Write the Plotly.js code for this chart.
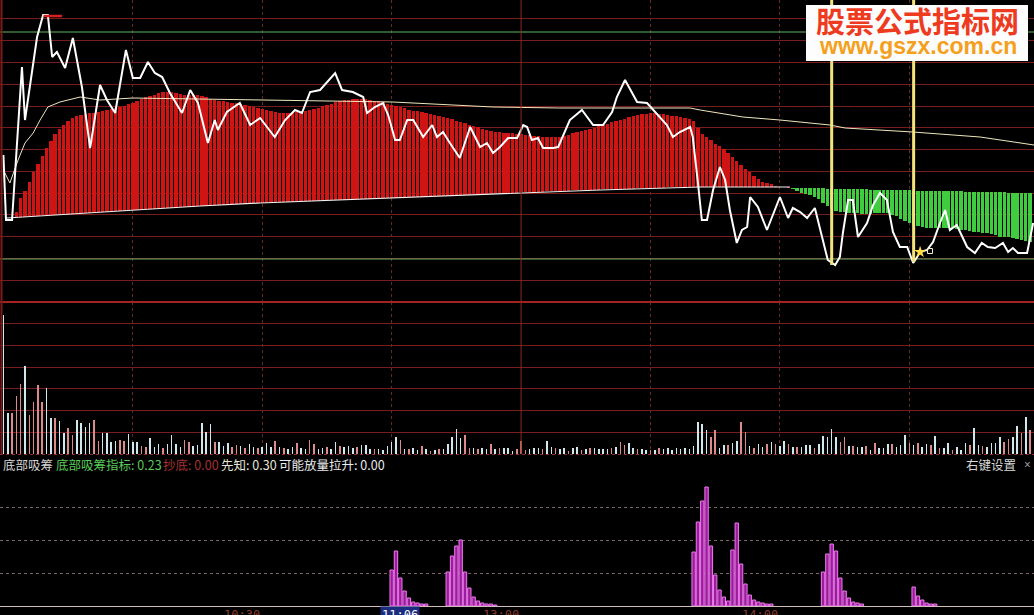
<!DOCTYPE html>
<html><head><meta charset="utf-8">
<script src="https://cdn.plot.ly/plotly-3.0.1.min.js"></script>
<style>html,body{margin:0;padding:0;background:#000;}#chart{width:1034px;height:615px;}</style>
</head><body><div id="chart"></div>
<script>
// ---- time axis: minutes since 09:30 (0..240) ----
const priceMinute = [0,0.6,2.0,4.3,5.0,7.8,9.2,10.3,11.3,12.4,14.3,16.1,18.2,20.1,22.4,24.0,25.9,28.4,30.0,31.7,33.5,35.1,36.8,38.6,41.4,43.3,45.1,47.4,49.0,49.7,51.8,54.8,57.2,59.5,62.9,65.3,67.6,69.2,71.1,73.4,76.9,78.5,81.0,83.4,84.3,86.1,88.0,89.2,90.8,91.9,93.6,95.0,97.3,99.4,100.5,101.9,103.5,105.8,108.2,110.5,112.1,113.5,115.1,117.0,119.1,120.5,121.4,122.5,123.9,125.1,127.4,128.6,131.3,134.1,136.7,139.0,141.1,142.2,144.1,146.9,149.2,151.0,153.8,155.2,156.8,159.2,159.8,161.0,161.9,163.1,164.5,166.1,167.3,168.4,170.0,171.2,172.4,173.1,174.9,177.0,180.0,181.9,183.0,184.7,186.3,188.1,189.8,191.1,192.8,193.9,194.6,195.8,196.9,198.1,200.2,201.6,203.2,204.8,206.2,207.8,209.5,210.9,211.8,212.5,214.1,215.5,217.1,218.3,219.4,221.0,223.4,225.2,226.8,228.2,229.9,231.7,232.9,234.0,235.2,237.3,238.7];
const price = [11.47,10.82,10.82,12.35,11.82,12.65,12.87,12.87,12.45,12.50,12.34,12.64,12.15,11.54,12.17,12.02,11.89,12.52,12.24,12.24,12.40,12.29,12.25,12.09,11.89,12.12,11.99,11.59,11.82,11.72,11.90,11.99,11.77,11.84,11.65,11.82,11.92,11.89,12.10,12.12,12.29,12.12,12.10,12.05,11.89,11.95,11.99,11.87,11.62,11.62,11.82,11.82,11.65,11.77,11.65,11.70,11.59,11.44,11.75,11.55,11.59,11.49,11.55,11.64,11.64,11.77,11.75,11.62,11.64,11.54,11.54,11.55,11.82,11.92,11.77,11.77,11.90,12.05,12.22,12.00,11.99,11.90,11.77,11.65,11.70,11.75,11.65,11.19,10.82,10.82,11.12,11.35,11.22,10.92,10.59,10.72,10.75,11.05,10.95,10.72,11.05,10.84,10.94,10.90,10.84,10.94,10.65,10.42,10.37,10.45,10.69,11.02,11.02,10.65,10.79,10.97,11.09,11.02,10.70,10.55,10.55,10.39,10.45,10.50,10.52,10.60,10.79,10.92,10.72,10.77,10.55,10.49,10.59,10.55,10.54,10.59,10.50,10.54,10.49,10.49,10.79];

const avgMinute = [0,1.5,3.4,5.0,6.9,8.5,10.3,13.1,17.8,22.4,30.0,59.5,90.3,113.5,129.0,159.2,161.5,171.4,180.0,191.6,195.1,210.8,226.4,238.9];
const avgPrice  = [11.32,11.19,11.42,11.59,11.69,11.82,11.95,12.00,12.05,12.02,12.04,12.02,12.00,11.95,11.94,11.94,11.92,11.85,11.82,11.77,11.74,11.70,11.65,11.57];

// day-high mark
const highMarkMinute = [9.3, 13.6];
const highMarkPrice = 12.86;

// indicator bars in the price panel (red: minutes 3..182, green: 183..238)
const redStartMinute = 3;
const redTop = [10.90,11.04,11.11,11.20,11.30,11.38,11.46,11.54,11.61,11.68,
11.73,11.77,11.81,11.84,11.86,11.87,11.88,11.89,11.89,11.90,
11.91,11.92,11.93,11.94,11.95,11.96,11.98,11.99,12.01,12.03,
12.05,12.06,12.07,12.09,12.10,12.10,12.10,12.09,12.08,12.07,
12.07,12.07,12.07,12.06,12.05,12.03,12.02,12.01,12.01,12.00,
11.99,11.99,11.98,11.97,11.96,11.95,11.94,11.93,11.92,11.91,
11.90,11.89,11.89,11.89,11.89,11.90,11.90,11.91,11.92,11.93,
11.94,11.96,11.97,11.98,12.00,12.01,12.02,12.02,12.03,12.03,
12.03,12.03,12.02,12.01,12.01,12.00,11.98,11.97,11.96,11.95,
11.94,11.92,11.91,11.91,11.90,11.89,11.88,11.87,11.86,11.85,
11.84,11.83,11.81,11.80,11.79,11.77,11.76,11.75,11.73,11.72,
11.71,11.70,11.70,11.69,11.69,11.69,11.68,11.68,11.67,11.67,
11.66,11.66,11.65,11.65,11.65,11.65,11.65,11.66,11.67,11.69,
11.70,11.71,11.72,11.73,11.74,11.76,11.77,11.78,11.80,11.81,
11.82,11.83,11.85,11.86,11.87,11.88,11.88,11.89,11.89,11.88,
11.88,11.87,11.86,11.86,11.85,11.84,11.83,11.81,11.74,11.68,
11.65,11.62,11.58,11.56,11.53,11.49,11.45,11.41,11.37,11.33,
11.30,11.26,11.23,11.20,11.19,11.18,11.16,11.15,11.15,11.14];
const redBottom = [10.85,10.85,10.85,10.86,10.86,10.86,10.87,10.87,10.87,10.87,
10.88,10.88,10.88,10.88,10.89,10.89,10.89,10.89,10.90,10.90,
10.90,10.90,10.91,10.91,10.91,10.91,10.92,10.92,10.92,10.92,
10.93,10.93,10.93,10.93,10.94,10.94,10.94,10.94,10.95,10.95,
10.95,10.95,10.96,10.96,10.96,10.96,10.97,10.97,10.97,10.97,
10.98,10.98,10.98,10.98,10.99,10.99,10.99,10.99,10.99,11.00,
11.00,11.00,11.00,11.00,11.00,11.01,11.01,11.01,11.01,11.01,
11.01,11.02,11.02,11.02,11.02,11.02,11.02,11.03,11.03,11.03,
11.03,11.03,11.03,11.03,11.04,11.04,11.04,11.04,11.04,11.04,
11.04,11.05,11.05,11.05,11.05,11.05,11.05,11.06,11.06,11.06,
11.06,11.07,11.07,11.07,11.07,11.07,11.08,11.08,11.08,11.08,
11.08,11.09,11.09,11.09,11.09,11.09,11.09,11.10,11.10,11.10,
11.10,11.10,11.10,11.11,11.11,11.11,11.11,11.11,11.11,11.12,
11.12,11.12,11.12,11.12,11.12,11.12,11.13,11.13,11.13,11.13,
11.13,11.13,11.13,11.13,11.14,11.14,11.14,11.14,11.14,11.14,
11.14,11.15,11.15,11.15,11.15,11.15,11.15,11.15,11.15,11.15,
11.15,11.15,11.15,11.15,11.15,11.15,11.15,11.15,11.15,11.15,
11.15,11.15,11.15,11.15,11.15,11.15,11.15,11.15,11.15,11.15];
const greenStartMinute = 183;
const greenTop = [11.14,11.14,11.14,11.14,11.14,11.14,11.14,11.14,
11.13,11.13,11.13,11.13,11.13,11.13,11.13,11.13,11.13,11.13,
11.12,11.12,11.12,11.12,11.12,11.12,11.12,11.12,11.12,11.12,
11.11,11.11,11.11,11.11,11.11,11.11,11.11,11.11,11.11,11.11,11.11,11.11,
11.10,11.10,11.10,11.10,11.10,11.10,11.10,11.10,11.10,11.10,
11.09,11.09,11.09,11.09,11.09,11.09];
const greenBottom = [11.13,11.11,11.09,11.08,11.07,11.05,11.03,10.99,10.96,10.93,
10.91,10.90,10.90,10.89,10.89,10.89,10.88,10.88,10.88,10.89,
10.89,10.89,10.89,10.87,10.86,10.83,10.81,10.79,10.77,10.76,
10.75,10.74,10.74,10.74,10.74,10.74,10.74,10.74,10.73,10.72,
10.72,10.71,10.70,10.70,10.69,10.69,10.68,10.67,10.65,10.65,
10.65,10.64,10.63,10.62,10.61,10.60];
const baseLineMinute = [0.8,22.4,45.6,59.5,82.7,103.5,119.0,138.3,161.5,182.3];
const baseLinePrice  = [10.84,10.90,10.96,10.99,11.03,11.06,11.09,11.12,11.15,11.15];

// reference levels and signal lines
const levelHigh = 12.70;
const levelLow = 10.43;
const signalMinute = [192, 211];
const signalLow = [10.37, 10.40];
const signalTop = 13.02;
const starMinute = [212.5];
const starPrice = [10.50];
const boxMinute = [214.8];
const boxPrice = [10.51];

// volume per minute (minute 0..238); w = up (white), p = down (pink)
const volume = [139,41,41,58,70,88,39,52,69,52,66,36,36,33,21,26,19,34,31,27,31,34,13,21,21,12,13,14,13,20,12,12,8,7,16,7,10,6,10,19,10,7,14,12,8,9,31,22,30,12,12,8,11,7,9,8,6,10,7,6,
7,11,7,13,7,6,5,7,11,6,5,14,10,5,6,7,5,12,8,7,8,6,7,9,9,5,5,5,4,8,12,17,14,5,5,6,4,8,5,3,4,5,5,10,17,25,16,19,6,6,5,6,5,10,5,6,6,6,3,5,13,4,5,6,6,5,13,7,6,5,6,3,6,7,4,5,6,6,5,5,5,6,7,12,9,11,6,5,5,4,4,4,6,5,6,4,6,5,6,5,8,
32,30,24,17,24,6,9,9,11,13,32,22,8,6,10,7,10,12,10,8,13,10,7,7,7,9,9,6,10,18,17,25,17,12,17,8,8,7,7,8,4,11,6,6,10,10,7,9,19,11,9,11,7,10,9,18,6,6,11,4,7,4,11,9,26,9,8,7,11,11,17,12,15,17,28,21,37,24];
const volumeDir = "wwpppwppppwwpwwppwwwwppwwwwppwwwppwwwpwwwwppwwwwwpwwwppwpwwp" +
  "wwwpwpwwpw" + "wppwwpwwpw" + "wwpwwwpwww" + "wwpwpwwpwp" + "wpwwwwwppw" +
  "pwwpwpwwwp" + "ppwwwpwwpw" + "wpwwpwpwww" + "wpwppwwpww" + "pwpwwwwwww" + "w" +
  "wwwppwwpwwppwpwwpwpwwpwpwwwpwwwwwppwpwwpwpwwwpwwwpwpwwpwpwwpwwwpwwpwwwwppwwpwp";

// lower indicator (底部吸筹) bars
const absorbMinute = [90,91,92,93,94,95,96,97,98,103,104,105,106,107,108,109,110,111,112,113,114,160,161,162,163,164,165,166,167,168,169,170,171,172,173,174,175,176,177,178,190,191,192,193,194,195,196,197,198,199,211,212,213,214,215,216];
const absorbValue = [0.36,0.55,0.28,0.15,0.08,0.04,0.03,0.02,0.02,0.34,0.50,0.60,0.66,0.34,0.18,0.09,0.05,0.03,0.02,0.02,0.01,0.54,0.84,1.05,1.19,0.60,0.31,0.16,0.09,0.05,0.56,0.83,0.42,0.22,0.11,0.06,0.04,0.03,0.02,0.02,0.34,0.52,0.62,0.55,0.28,0.15,0.08,0.04,0.03,0.02,0.19,0.10,0.06,0.03,0.02,0.02];

// time labels
const timeTickMinute = [60, 96.5, 120, 180];
const timeTickText = ['10:30', '11:06', '13:00', '14:00'];
const gridMinute = [30, 60, 90, 150, 180, 210];
const noonMinute = 120;

// legend strip texts
const legendTexts = ['底部吸筹', '底部吸筹指标: 0.23', '抄底: 0.00', '先知: 0.30', '可能放量拉升: 0.00'];
const legendColors = ['#d6d6d6', '#58cc58', '#a83030', '#e6e6da', '#ececec'];
const legendX = [2, 55, 162, 220, 278];

// ---------- build ----------
const W = 1034, H = 615;
const px2x = p => p / W;
const py2y = p => (H - p) / H;
const xRange = [-0.79, 238.9];

const redX = redTop.map((_, i) => redStartMinute + i);
const greenX = greenTop.map((_, i) => greenStartMinute + i);
const volX = volume.map((_, i) => i);

const traces = [];
traces.push({type:'bar', x:redX, base:redBottom, y:redTop.map((v,i)=>v-redBottom[i]), width:0.78,
  marker:{color:'#cf1414', line:{width:0}}, xaxis:'x', yaxis:'y', hoverinfo:'skip'});
traces.push({type:'bar', x:greenX, base:greenTop, y:greenBottom.map((v,i)=>v-greenTop[i]), width:0.78,
  marker:{color:'#3fcc3f', line:{width:0}}, xaxis:'x', yaxis:'y', hoverinfo:'skip'});
traces.push({type:'scatter', mode:'lines', x:baseLineMinute, y:baseLinePrice, line:{color:'#f2f2f2', width:1.2}, xaxis:'x', yaxis:'y'});
traces.push({type:'scatter', mode:'lines', x:[xRange[0], xRange[1]], y:[levelHigh, levelHigh], line:{color:'#5fb85f', width:1.2}, xaxis:'x', yaxis:'y'});
traces.push({type:'scatter', mode:'lines', x:[xRange[0], xRange[1]], y:[levelLow, levelLow], line:{color:'#62b062', width:1.2}, xaxis:'x', yaxis:'y'});
traces.push({type:'scatter', mode:'lines', x:avgMinute, y:avgPrice, line:{color:'#efe6bc', width:1}, xaxis:'x', yaxis:'y'});
traces.push({type:'scatter', mode:'lines', x:priceMinute, y:price, line:{color:'#ffffff', width:2}, xaxis:'x', yaxis:'y'});
traces.push({type:'scatter', mode:'lines', x:highMarkMinute, y:[highMarkPrice, highMarkPrice], line:{color:'#d42020', width:2.5}, xaxis:'x', yaxis:'y'});
signalMinute.forEach((m, i) => {
  traces.push({type:'scatter', mode:'lines', x:[m, m], y:[signalLow[i], signalTop], line:{color:'#f2e37c', width:3}, xaxis:'x', yaxis:'y'});
});
traces.push({type:'scatter', mode:'markers', x:starMinute, y:starPrice, marker:{symbol:'star', size:9, color:'#ffe04a'}, xaxis:'x', yaxis:'y'});
traces.push({type:'scatter', mode:'markers', x:boxMinute, y:boxPrice, marker:{symbol:'square-open', size:5, color:'#f4f0d0', line:{width:1}}, xaxis:'x', yaxis:'y'});

traces.push({type:'bar', x:volX, y:volume, width:0.36,
  marker:{color: volume.map((_, i) => volumeDir[i] === 'p' ? '#dc8a8a' : '#cfe8ee'), line:{width:0}},
  xaxis:'x2', yaxis:'y2', hoverinfo:'skip'});

traces.push({type:'bar', x:absorbMinute, y:absorbValue, width:0.78,
  marker:{color:'#9a1e9a', line:{color:'#f07af0', width:1}}, xaxis:'x3', yaxis:'y3', hoverinfo:'skip'});

const gridRed = '#781c1c';
const vgrid = '#6a2a22';
const layout = {
  width: W, height: H,
  margin: {l:0, r:0, t:0, b:0, pad:0},
  paper_bgcolor: '#000', plot_bgcolor: '#000',
  showlegend: false, barmode: 'overlay', bargap: 0,
  xaxis: {domain:[0,1], range:xRange, anchor:'y', tickvals:gridMinute, showticklabels:false, ticks:'',
    showgrid:true, gridcolor:vgrid, griddash:'dot', gridwidth:1, zeroline:false, showline:false},
  yaxis: {domain:[py2y(302), 1], range:[10, 13.02], tick0:10, dtick:0.2177, showticklabels:false, ticks:'',
    showgrid:true, gridcolor:gridRed, gridwidth:1, zeroline:false, showline:false},
  xaxis2: {domain:[0,1], range:xRange, anchor:'y2', tickvals:gridMinute, showticklabels:false, ticks:'',
    showgrid:true, gridcolor:vgrid, griddash:'dot', gridwidth:1, zeroline:false, showline:false},
  yaxis2: {domain:[py2y(454), py2y(302)], range:[0, 152.4], tick0:0, dtick:21.77, showticklabels:false, ticks:'',
    showgrid:true, gridcolor:gridRed, gridwidth:1, zeroline:false, showline:false},
  xaxis3: {domain:[0,1], range:xRange, anchor:'y3', showticklabels:false, ticks:'', showgrid:false,
    zeroline:false, showline:true, linecolor:'#d2bcbc', linewidth:1},
  yaxis3: {domain:[py2y(606), py2y(480)], range:[0, 1.26], tick0:0, dtick:0.33, showticklabels:false, ticks:'',
    showgrid:true, gridcolor:'#7a6666', griddash:'dot', gridwidth:1, zeroline:false, showline:false},
  shapes: [
    {type:'line', xref:'paper', yref:'paper', x0:0, x1:1, y0:py2y(302), y1:py2y(302), line:{color:'#a32222', width:2}},
    {type:'line', xref:'paper', yref:'paper', x0:0, x1:1, y0:py2y(454.5), y1:py2y(454.5), line:{color:'#8e2a2a', width:1, dash:'dot'}},
    {type:'line', xref:'x', yref:'paper', x0:noonMinute, x1:noonMinute, y0:py2y(454), y1:1, line:{color:'#8a2c1c', width:1}},
    {type:'line', xref:'paper', yref:'paper', x0:px2x(1.5), x1:px2x(1.5), y0:py2y(454), y1:1, line:{color:'#7a1c1c', width:2}},
    {type:'rect', xref:'paper', yref:'paper', x0:px2x(806), x1:px2x(1028), y0:py2y(61), y1:py2y(5), fillcolor:'#fdfdfd', line:{width:0}, layer:'above'}
  ],
  annotations: []
};

legendTexts.forEach((t, i) => {
  layout.annotations.push({xref:'paper', yref:'paper', x:px2x(legendX[i]), y:py2y(464), xanchor:'left', yanchor:'middle',
    text:t, showarrow:false, font:{family:'Noto Sans CJK SC, Noto Sans, sans-serif', size:12.5, color:legendColors[i]}, borderpad:0});
});
layout.annotations.push({xref:'paper', yref:'paper', x:px2x(1017), y:py2y(464), xanchor:'right', yanchor:'middle',
  text:'右键设置', showarrow:false, font:{family:'Noto Sans CJK SC, sans-serif', size:12.5, color:'#d8d8d8'}, borderpad:0});
layout.annotations.push({xref:'paper', yref:'paper', x:px2x(1027), y:py2y(464), xanchor:'center', yanchor:'middle',
  text:'×', showarrow:false, font:{family:'Noto Sans, sans-serif', size:12, color:'#9a9a9a'}, borderpad:0});

timeTickText.forEach((t, i) => {
  const hi = t === '11:06';
  layout.annotations.push({xref:'x3', yref:'paper', x:timeTickMinute[i], y:py2y(606), xanchor:'right', yanchor:'top',
    text:t, showarrow:false, bgcolor: hi ? '#1c2c80' : 'rgba(0,0,0,0)', borderpad:1,
    font:{family:'DejaVu Sans Mono, monospace', size:12, color: hi ? '#ffffff' : '#8c3a2a'}});
});

// watermark
layout.annotations.push({xref:'paper', yref:'paper', x:px2x(917.5), y:py2y(20.5), xanchor:'center', yanchor:'middle',
  text:'股票公式指标网', showarrow:false, borderpad:0,
  font:{family:'Noto Sans CJK SC, sans-serif', size:29, color:'#ee3a1e', weight:'bold'}});
layout.annotations.push({xref:'paper', yref:'paper', x:px2x(918), y:py2y(46.5), xanchor:'center', yanchor:'middle',
  text:'www.gszx.com.cn', showarrow:false, borderpad:0,
  font:{family:'Liberation Sans, Arial, sans-serif', size:23, color:'#f5a01c', weight:'bold'}});

Plotly.newPlot('chart', traces, layout, {staticPlot:true, displayModeBar:false});
</script>
</body></html>
